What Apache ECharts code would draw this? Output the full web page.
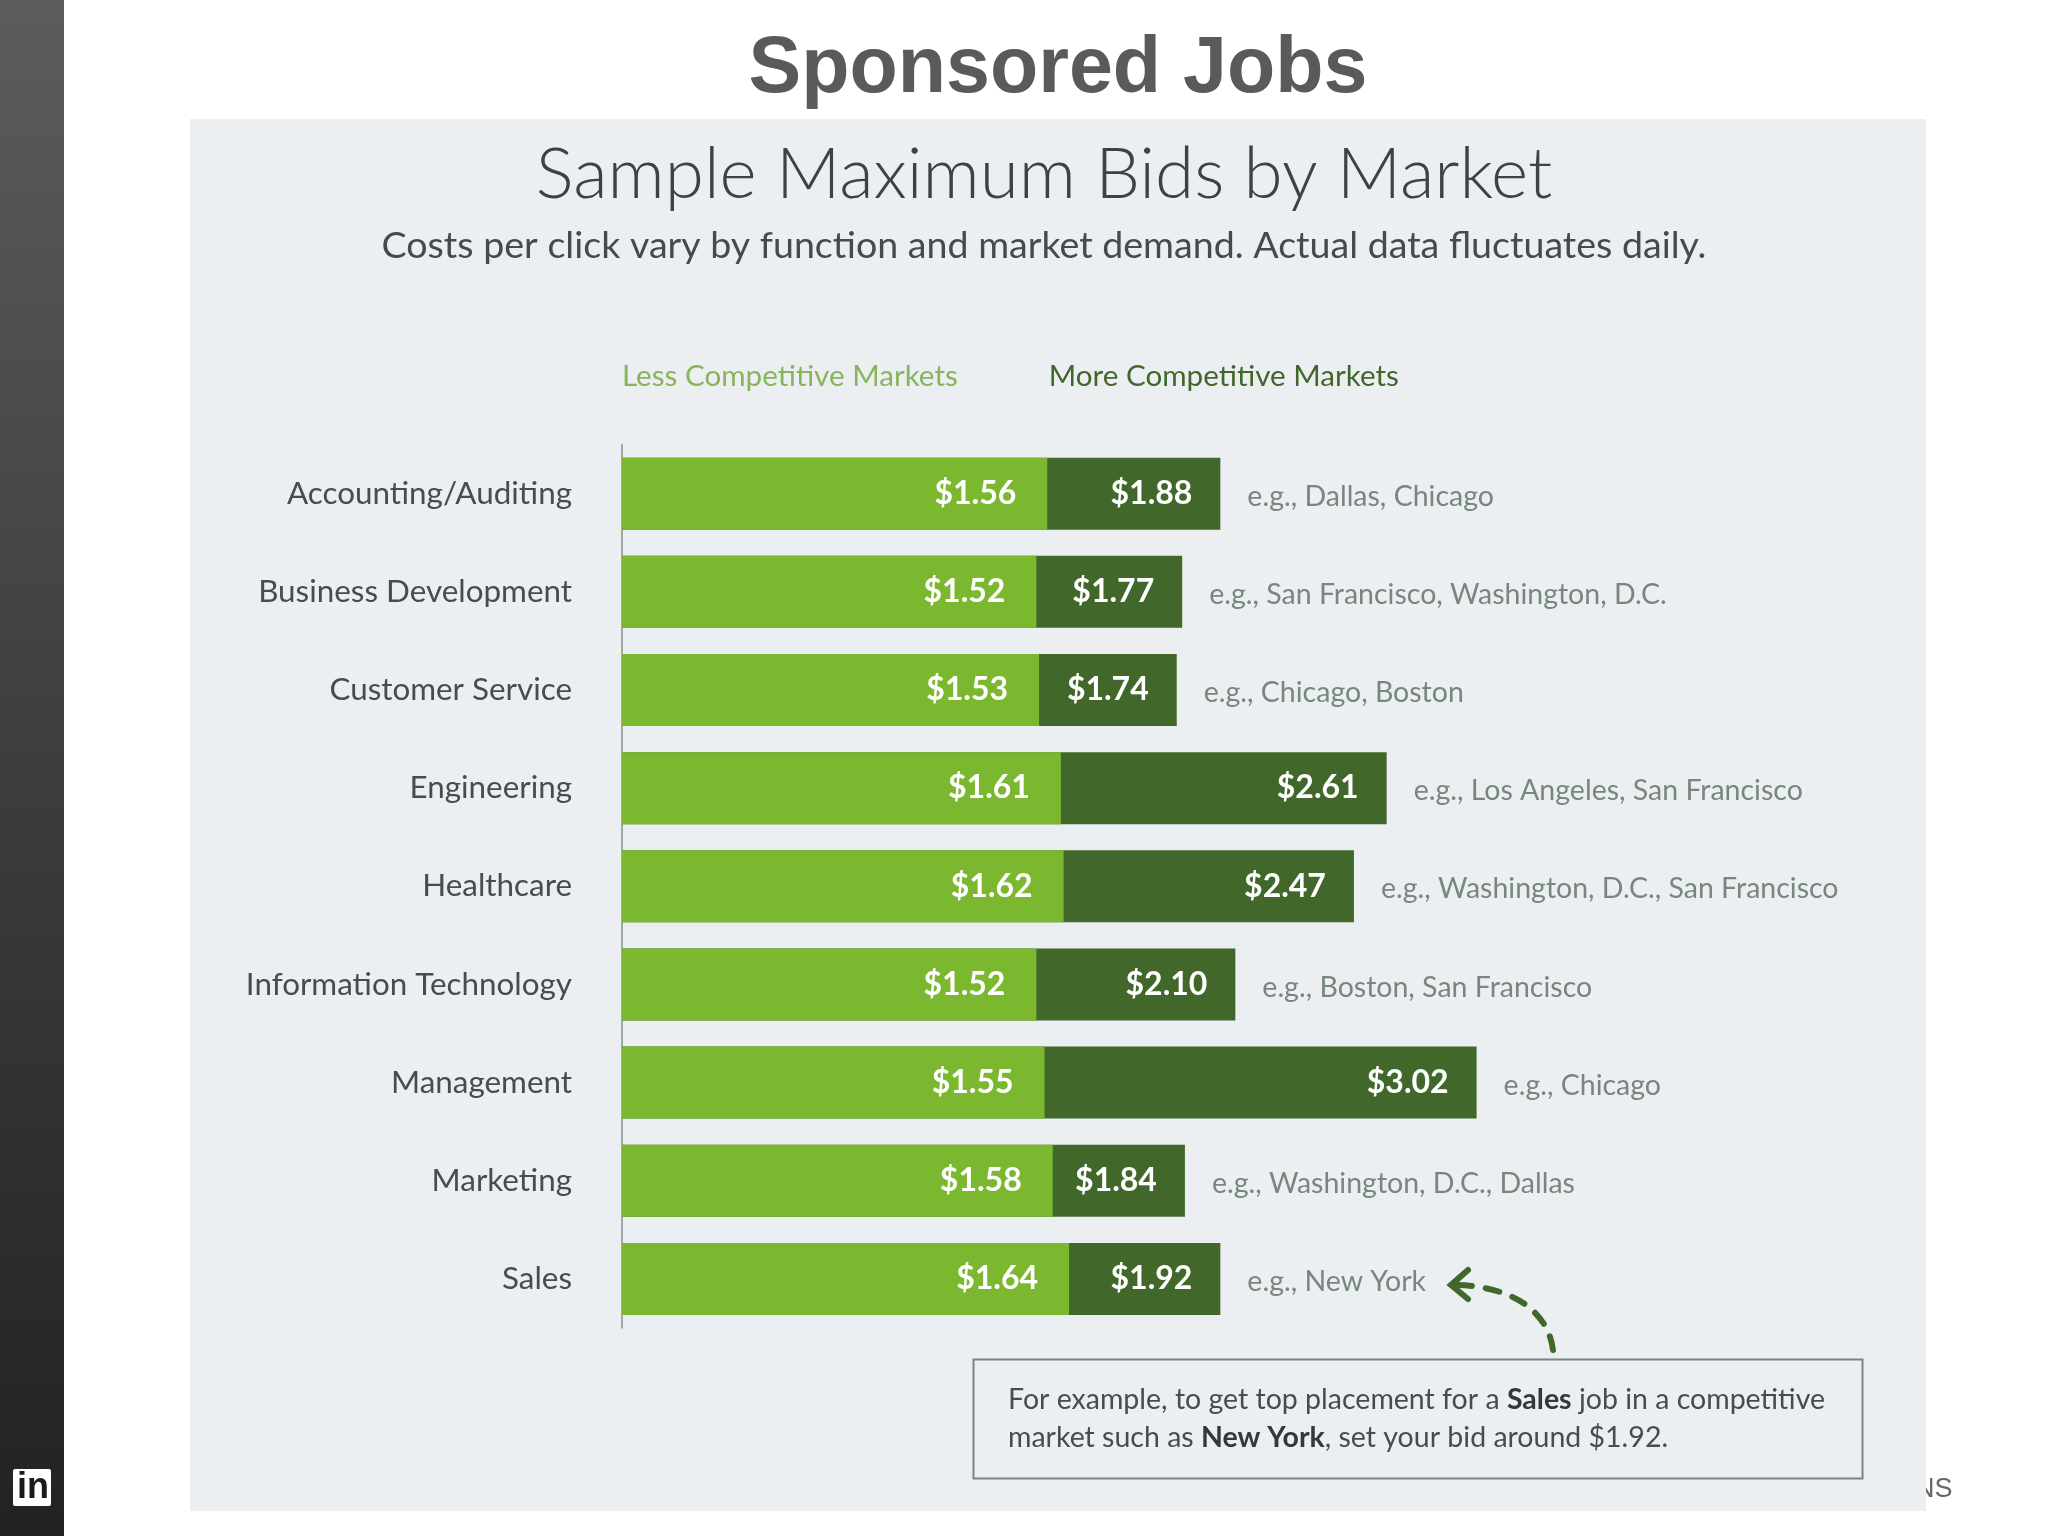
<!DOCTYPE html>
<html><head><meta charset="utf-8">
<style>html,body{margin:0;padding:0;background:#fff}#c{width:2048px;height:1536px}</style>
<script src="https://cdn.jsdelivr.net/npm/echarts@6/dist/echarts.min.js"></script>
</head><body><div id="c"></div>
<script>
const categories = ['Accounting/Auditing','Business Development','Customer Service','Engineering','Healthcare','Information Technology','Management','Marketing','Sales'];
const lessBids = [1.56,1.52,1.53,1.61,1.62,1.52,1.55,1.58,1.64];
const moreBids = [1.88,1.77,1.74,2.61,2.47,2.10,3.02,1.84,1.92];
// The reference's dark bars are not proportional to their printed figure: lengths, in the light bars' axis units.
const moreBarLengths = [2.195,2.055,2.035,2.805,2.685,2.25,3.135,2.065,2.195];
const examples = ['e.g., Dallas, Chicago','e.g., San Francisco, Washington, D.C.','e.g., Chicago, Boston','e.g., Los Angeles, San Francisco','e.g., Washington, D.C., San Francisco','e.g., Boston, San Francisco','e.g., Chicago','e.g., Washington, D.C., Dallas','e.g., New York'];
const LESS='Less Competitive Markets', MORE='More Competitive Markets';
const BODY='Lato';
const chart = echarts.init(document.getElementById('c'),null,{renderer:'canvas',width:2048,height:1536});
const money = v => '$'+v.toFixed(2);
chart.setOption({
  animation:false,
  backgroundColor:'#ffffff',
  title:[
    {text:'Sponsored Jobs',left:1053,top:26,textAlign:'center',textStyle:{fontFamily:'"Liberation Sans"',fontWeight:'bold',fontSize:79,color:'#5a5a5a'}},
    {text:'Sample Maximum Bids by Market',left:1039,top:135,textAlign:'center',textStyle:{fontFamily:BODY,fontWeight:300,fontSize:71,color:'#3c4246'}},
    {text:'Costs per click vary by function and market demand. Actual data fluctuates daily.',left:1039,top:222,textAlign:'center',textStyle:{fontFamily:BODY,fontWeight:'normal',fontSize:37.6,color:'#454a4e'}}
  ],
  legend:{left:612,top:356,icon:'none',itemWidth:0,itemGap:86,selectedMode:false,
    data:[{name:LESS,textStyle:{color:'#88b55c'}},{name:MORE,textStyle:{color:'#41682a'}}],
    textStyle:{fontFamily:BODY,fontSize:29.6,padding:0}},
  grid:{left:622,top:444.6,width:1363,height:883.4,containLabel:false},
  xAxis:{type:'value',min:0,max:5,show:false},
  yAxis:{type:'category',inverse:true,data:categories,
    axisLine:{show:true,lineStyle:{color:'#8a8f92',width:1.5}},axisTick:{show:false},
    axisLabel:{margin:50,fontFamily:BODY,fontSize:31.4,color:'#474c50',verticalAlign:'middle',padding:[0,0,6,0]}},
  series:[
    {name:MORE,type:'bar',data:moreBarLengths,barWidth:72,barGap:'-100%',itemStyle:{color:'#41682a'},
     label:{show:true,position:'insideRight',distance:28,fontFamily:BODY,fontWeight:'bold',fontSize:32,color:'#ffffff',
       formatter:p=>money(moreBids[p.dataIndex])}},
    {name:LESS,type:'bar',data:lessBids,barWidth:72,barGap:'-100%',itemStyle:{color:'#7cb82f'},
     label:{show:true,position:'insideRight',distance:31,fontFamily:BODY,fontWeight:'bold',fontSize:32,color:'#ffffff',
       formatter:p=>money(p.value)}},
    {name:'examples',type:'scatter',data:moreBarLengths.map((v,j)=>[v,j]),encode:{x:0,y:1},symbolSize:0,silent:true,
     label:{show:true,position:'right',distance:27,offset:[0,3],fontFamily:BODY,fontSize:28.5,color:'#5a6b60',
       formatter:p=>examples[p.dataIndex]}}
  ],
  graphic:[
    {type:'rect',shape:{x:0,y:0,width:64,height:1536},style:{fill:new echarts.graphic.LinearGradient(0,0,0,1,[{offset:0,color:'#5c5c5c'},{offset:0.5,color:'#3d3d3d'},{offset:1,color:'#222222'}])}},
    {type:'rect',shape:{x:13,y:1469,width:38,height:37,r:2},style:{fill:'#ffffff'}},
    {type:'text',x:17,y:1470,style:{text:'in',font:'bold 36px "Liberation Sans"',fill:'#1a1a1a'}},
    {type:'text',x:1915,y:1476,style:{text:'NS',font:'27px "Liberation Sans"',fill:'#666666'}},
    {type:'rect',shape:{x:190,y:119,width:1736,height:1392},style:{fill:'#eceff2'}},
    {type:'rect',shape:{x:973.5,y:1359.5,width:889,height:119},style:{fill:'none',stroke:'#7b8580',lineWidth:2}},
    {type:'text',x:1008,y:1381,style:{fill:'#474c50',
      text:'{n|For example, to get top placement for a }{b|Sales}{n| job in a competitive}\n{n|market such as }{b|New York}{n|, set your bid around $1.92.}',
      rich:{n:{font:'28.5px Lato',fill:'#474c50',lineHeight:38},b:{font:'bold 28.5px Lato',fill:'#33383b',lineHeight:38}}}},
    {type:'bezierCurve',shape:{x1:1553,y1:1350,cpx1:1548,cpy1:1310,cpx2:1510,cpy2:1285,x2:1452,y2:1285},style:{fill:'none',stroke:'#41682a',lineWidth:6,lineDash:[14,14],lineCap:'round'}},
    {type:'polyline',shape:{points:[[1468,1270],[1451,1285],[1468,1299]]},style:{fill:'none',stroke:'#41682a',lineWidth:6,lineCap:'round'}}
  ]
});
</script></body></html>
